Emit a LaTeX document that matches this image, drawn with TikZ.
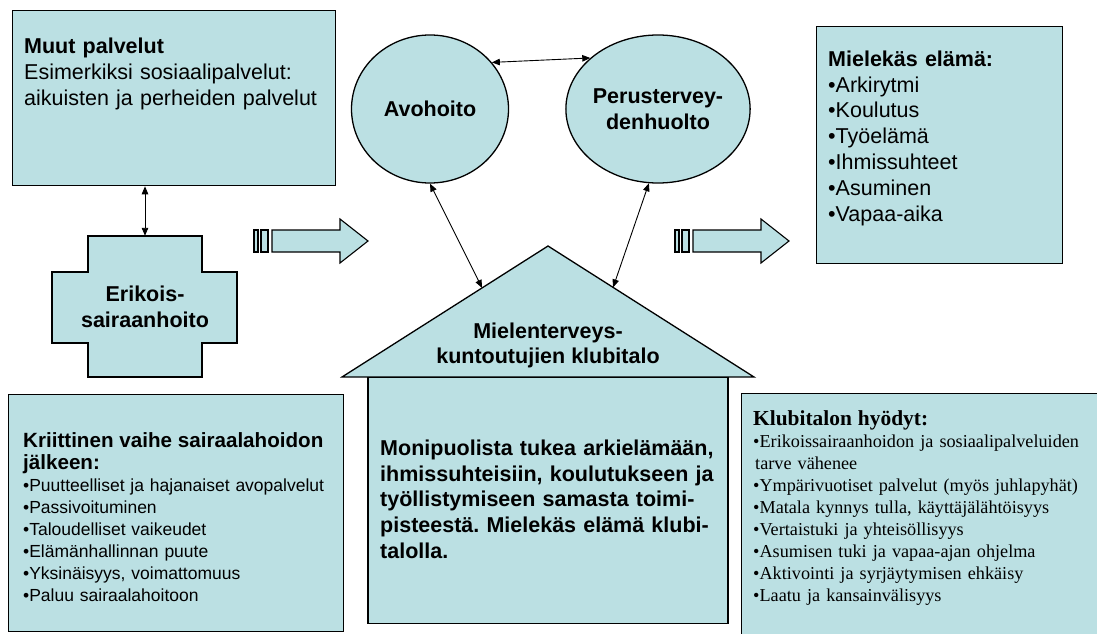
\documentclass[tikz,border=0pt]{standalone}
\usepackage{fontspec}
\setmainfont{Liberation Sans}
\newfontfamily\timesfont{Liberation Serif}
\usetikzlibrary{shapes.geometric,positioning,calc,arrows.meta}
\definecolor{boxfill}{RGB}{187,224,227}
\frenchspacing

\tikzset{
  box/.style={draw=black, line width=1.3pt, fill=boxfill, inner sep=0pt},
  blk/.style={draw=black, line width=1.1pt, fill=boxfill},
  link/.style={{Triangle[length=8pt,width=6.5pt]}-{Triangle[length=8pt,width=6.5pt]}, line width=0.9pt},
  boxtext/.style={anchor=north west, inner sep=0pt, align=left},
  big/.style={font=\fontsize{21.5}{25.8}\selectfont},
}

\begin{document}
\begin{tikzpicture}[x=1pt, y=-1pt]
    \clip (0,0) rectangle (1097,634);

    % Muut palvelut
    \node [box, anchor=north west, minimum width=323pt, minimum height=175pt] (muut) at (12,10) {};
    \node [boxtext, big, text width=310pt] (muuttext) at (24,38) {\textbf{Muut palvelut}\\Esimerkiksi sosiaalipalvelut:\\aikuisten ja perheiden palvelut};

    % Erikoissairaanhoito (cross)
    \draw [box] (88,236) -- (202,236) -- (202,272) -- (237,272) -- (237,343) -- (202,343)
        -- (202,377) -- (88,377) -- (88,343) -- (52,343) -- (52,272) -- (88,272) -- cycle;
    \node [big, align=center, minimum width=114pt, minimum height=141pt, inner sep=0pt] (erik) at (145,306.5) {\textbf{Erikois-}\\\textbf{sairaanhoito}};

    % Avohoito, Perusterveydenhuolto
    \node [box, ellipse, minimum width=157pt, minimum height=148pt, big, align=center] (avo) at (430,109) {\textbf{Avohoito}};
    \node [box, ellipse, minimum width=159pt, minimum height=148pt, big, align=center] (perus) at (658,109) {\textbf{Perustervey-}\\\textbf{denhuolto}};

    % striped block arrows
    \draw [blk] (254,230) rectangle (258,252);
    \draw [blk] (261,230) rectangle (268,252);
    \draw [blk] (272,230) -- (340,230) -- (340,219) -- (368,241) -- (340,263) -- (340,252) -- (272,252) -- cycle;
    \draw [blk] (675,230) rectangle (679,252);
    \draw [blk] (682,230) rectangle (689,252);
    \draw [blk] (693,230) -- (761,230) -- (761,219) -- (789,241) -- (761,263) -- (761,252) -- (693,252) -- cycle;

    % Klubitalo (house)
    \coordinate (apex) at (548,246);
    \coordinate (eaveL) at (342,377);
    \coordinate (eaveR) at (754,377);
    \draw [box] (eaveL) -- (apex) -- (eaveR) -- cycle;
    \node [box, anchor=north, minimum width=360pt, minimum height=246pt] (body) at (548,377) {};
    \node [big, align=center, inner sep=0pt] (roof) at (548,345.5) {\textbf{Mielenterveys-}\\\textbf{kuntoutujien klubitalo}};
    \node [boxtext, big, text width=345pt] (bodytext) at (380,439.5) {\bfseries Monipuolista tukea arkielämään,\\ihmissuhteisiin, koulutukseen ja\\työllistymiseen samasta toimi-\\pisteestä. Mielekäs elämä klubi-\\talolla.};

    % Mielekäs elämä
    \node [box, anchor=north west, minimum width=246pt, minimum height=237pt] (miel) at (816,26) {};
    \node [boxtext, big, text width=230pt] (mieltext) at (828,50.5) {\textbf{Mielekäs elämä:}\\•Arkirytmi\\•Koulutus\\•Työelämä\\•Ihmissuhteet\\•Asuminen\\•Vapaa-aika};

    % Kriittinen vaihe
    \node [box, anchor=north west, minimum width=335pt, minimum height=237pt] (krit) at (8,394) {};
    \node [boxtext, text width=330pt, font=\fontsize{17.5}{22.1}\selectfont] (krittext) at (23,432) {\bfseries\fontsize{20.6}{22.1}\selectfont Kriittinen vaihe sairaalahoidon\\jälkeen:\\\mdseries\fontsize{17.5}{22.1}\selectfont •Puutteelliset ja hajanaiset avopalvelut\\•Passivoituminen\\•Taloudelliset vaikeudet\\•Elämänhallinnan puute\\•Yksinäisyys, voimattomuus\\•Paluu sairaalahoitoon};

    % Klubitalon hyodyt
    \node [box, anchor=north west, minimum width=380pt, minimum height=260pt] (klub) at (741,393) {};
    \node [boxtext, text width=345pt, font=\timesfont\fontsize{18.2}{21.9}\selectfont] (klubtext) at (753,410) {\bfseries\fontsize{21.4}{21.9}\selectfont Klubitalon hyödyt:\\[1pt]\mdseries\fontsize{18.2}{21.9}\selectfont •Erikoissairaanhoidon ja sosiaalipalveluiden\\\hspace*{2pt}tarve vähenee\\•Ympärivuotiset palvelut (myös juhlapyhät)\\•Matala kynnys tulla, käyttäjälähtöisyys\\•Vertaistuki ja yhteisöllisyys\\•Asumisen tuki ja vapaa-ajan ohjelma\\•Aktivointi ja syrjäytymisen ehkäisy\\•Laatu ja kansainvälisyys};

    % connectors
    \draw [link] (muut.south -| erik.north) -- (erik.north);
    \draw [link] (avo.37) -- (perus.143);
    \draw [link] (avo.south) -- ($(eaveL)!0.68!(apex)$);
    \draw [link] (perus.263) -- ($(apex)!0.316!(eaveR)$);
\end{tikzpicture}
\end{document}
